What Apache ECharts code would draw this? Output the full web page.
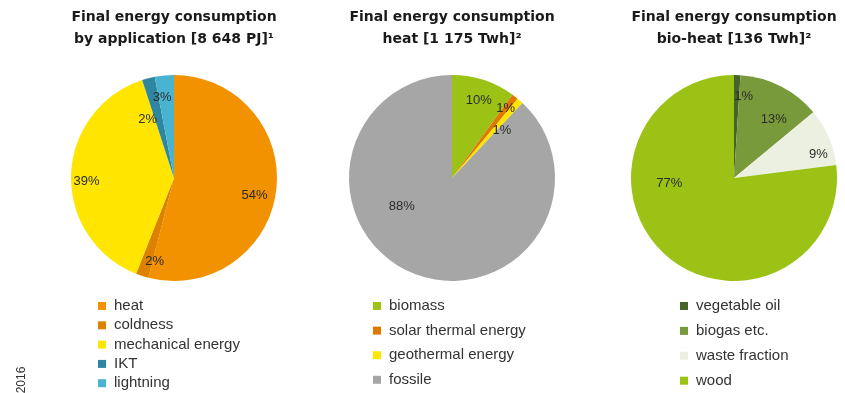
<!DOCTYPE html>
<html>
<head>
<meta charset="utf-8">
<script src="https://cdn.jsdelivr.net/npm/echarts@6/dist/echarts.min.js"></script>
<style>
  html, body { margin: 0; padding: 0; background: #fff; }
  #chart { width: 845px; height: 393px; }
</style>
</head>
<body>
<div id="chart"></div>
<script>
// Final energy consumption shares (percent)
const applicationNames = ['heat', 'coldness', 'mechanical energy', 'IKT', 'lightning'];
const applicationShares = [54, 2, 39, 2, 3];

const heatNames = ['biomass', 'solar thermal energy', 'geothermal energy', 'fossile'];
const heatShares = [10, 1, 1, 88];

const bioHeatNames = ['vegetable oil', 'biogas etc.', 'waste fraction', 'wood'];
const bioHeatShares = [1, 13, 9, 77];

const chartTitles = [
  'Final energy consumption\nby application [8 648 PJ]\u00b9',
  'Final energy consumption\nheat [1 175 Twh]\u00b2',
  'Final energy consumption\nbio-heat [136 Twh]\u00b2'
];
const yearNote = '2016';

// ---- styling ----
const FONT = '"Liberation Sans", Arial, sans-serif';
const TITLE_FONT = '"DejaVu Sans", "Liberation Sans", sans-serif';
const RADIUS = 103;
const CY = 178;

const pies = [
  {
    names: applicationNames, values: applicationShares, cx: 174, legendLeft: 98, legendGap: 4.3,
    colors: ['#F39200', '#DC8100', '#FFE500', '#2E86A0', '#4AB3CF'],
    // label placement: radial ratio and angle shift (deg) from the slice middle
    labelRatio: [0.8, 0.83, 0.85, 0.62, 0.79],
    labelShift: [5, -5, -4, -10, -3]
  },
  {
    names: heatNames, values: heatShares, cx: 452, legendLeft: 373, legendGap: 9.6,
    colors: ['#9BC215', '#E07800', '#FFE500', '#A6A6A6'],
    labelRatio: [0.8, 0.85, 0.67, 0.56],
    labelShift: [1, 0, 5, 39]
  },
  {
    names: bioHeatNames, values: bioHeatShares, cx: 734, legendLeft: 680, legendGap: 9.9,
    colors: ['#46632A', '#789A3A', '#ECF0E0', '#9BC215'],
    labelRatio: [0.8, 0.69, 0.85, 0.63],
    labelShift: [5, 7, 8, 44]
  }
];

function makeLabelLayout(p) {
  const total = p.values.reduce((a, b) => a + b, 0);
  const mids = [];
  let acc = 0;
  p.values.forEach(v => { mids.push((acc + v / 2) / total * 360); acc += v; });
  return function (params) {
    const i = params.dataIndex;
    const a = (mids[i] + p.labelShift[i]) * Math.PI / 180;
    const r = RADIUS * p.labelRatio[i];
    return {
      x: p.cx + r * Math.sin(a),
      y: CY - r * Math.cos(a),
      align: 'center',
      verticalAlign: 'middle'
    };
  };
}

const series = pies.map(p => ({
  type: 'pie',
  center: [p.cx, CY],
  radius: RADIUS,
  startAngle: 90,
  clockwise: true,
  silent: true,
  animation: false,
  avoidLabelOverlap: false,
  data: p.names.map((n, i) => ({ name: n, value: p.values[i], itemStyle: { color: p.colors[i] } })),
  itemStyle: { borderWidth: 0 },
  label: {
    show: true,
    position: 'inside',
    formatter: '{c}%',
    fontFamily: FONT,
    fontSize: 13,
    color: '#2b2b2b'
  },
  labelLine: { show: false },
  labelLayout: makeLabelLayout(p),
  emphasis: { disabled: true }
}));

const legends = pies.map(p => ({
  orient: 'vertical',
  left: p.legendLeft,
  top: 298.5,
  height: 130,
  padding: 0,
  data: p.names,
  icon: 'rect',
  itemWidth: 8,
  itemHeight: 8,
  itemGap: p.legendGap,
  selectedMode: false,
  textStyle: { fontFamily: FONT, fontSize: 15, lineHeight: 14, color: '#333', padding: [0, 0, 0, 3] }
}));

const graphics = pies.map((p, i) => ({
  type: 'text',
  x: p.cx,
  y: 6,
  style: {
    text: chartTitles[i],
    font: 'bold 14px ' + TITLE_FONT,
    fill: '#1a1a1a',
    textAlign: 'center',
    textVerticalAlign: 'top',
    lineHeight: 22
  }
}));
graphics.push({
  type: 'text',
  x: 22,
  y: 380,
  rotation: Math.PI / 2,
  style: {
    text: yearNote,
    font: '12px ' + FONT,
    fill: '#333',
    textAlign: 'center',
    textVerticalAlign: 'middle'
  }
});

const chart = echarts.init(document.getElementById('chart'), null, { renderer: 'canvas' });
chart.setOption({
  backgroundColor: '#fff',
  animation: false,
  legend: legends,
  series: series,
  graphic: graphics
});
</script>
</body>
</html>
